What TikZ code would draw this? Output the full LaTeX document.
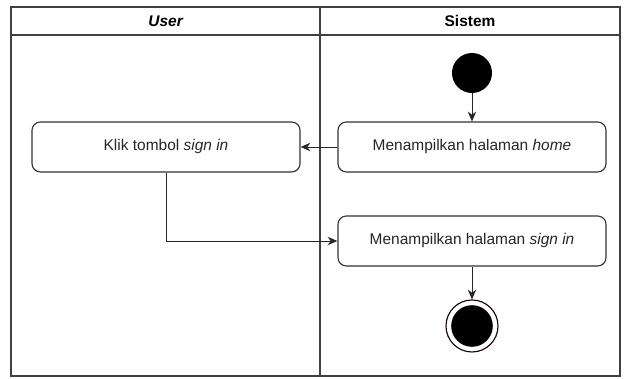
\documentclass[tikz,border=0pt]{standalone}
\usepackage{fontspec}
\setmainfont{Liberation Sans}
\usetikzlibrary{arrows.meta,positioning}

\begin{document}
\begin{tikzpicture}
[x=0.025cm,y=-0.025cm,
font=\fontsize{11}{13}\selectfont,
lane/.style={draw=black!75,line width=0.9pt},
action/.style={rectangle,rounded corners=6pt,draw=black!80,line width=0.8pt,
  minimum width=6.7cm,minimum height=1.25cm,text=black!85},
initial/.style={circle,fill=black,minimum size=1cm,inner sep=0pt},
final/.style={circle,draw=black!75!red!40!black,line width=0.8pt,fill=white,
  minimum size=1.3cm,inner sep=0pt,
  path picture={\fill[black] (path picture bounding box.center) circle (0.52cm);}},
post/.style={-{Stealth[length=7pt,width=6pt]},draw=black!85,line width=0.7pt}]
\useasboundingbox (0,0) rectangle (627,379);
% swimlanes
\draw[lane] (11,7) rectangle (620,376);
\draw[lane] (11,35) -- (620,35);
\draw[lane] (320,7) -- (320,376);
\node (user) at (166,21) {\textbf{\textit{User}}};
\node (sistem) at (470,21) {\textbf{Sistem}};
% activities
\node[initial] (start) at (472,73) {};
\node[action] (home) at (472,147) {Menampilkan halaman \textit{home}};
\node[action] (klik) at (166,147) {Klik tombol \textit{sign in}};
\node[action] (signin) at (472,241) {Menampilkan halaman \textit{sign in}};
\node[final] (end) at (472,326) {};
% flows
\draw[post] (start) -- (home);
\draw[post] (home) -- (klik);
\draw[post] (klik) |- (signin);
\draw[post] (signin) -- (end);
\end{tikzpicture}
\end{document}
